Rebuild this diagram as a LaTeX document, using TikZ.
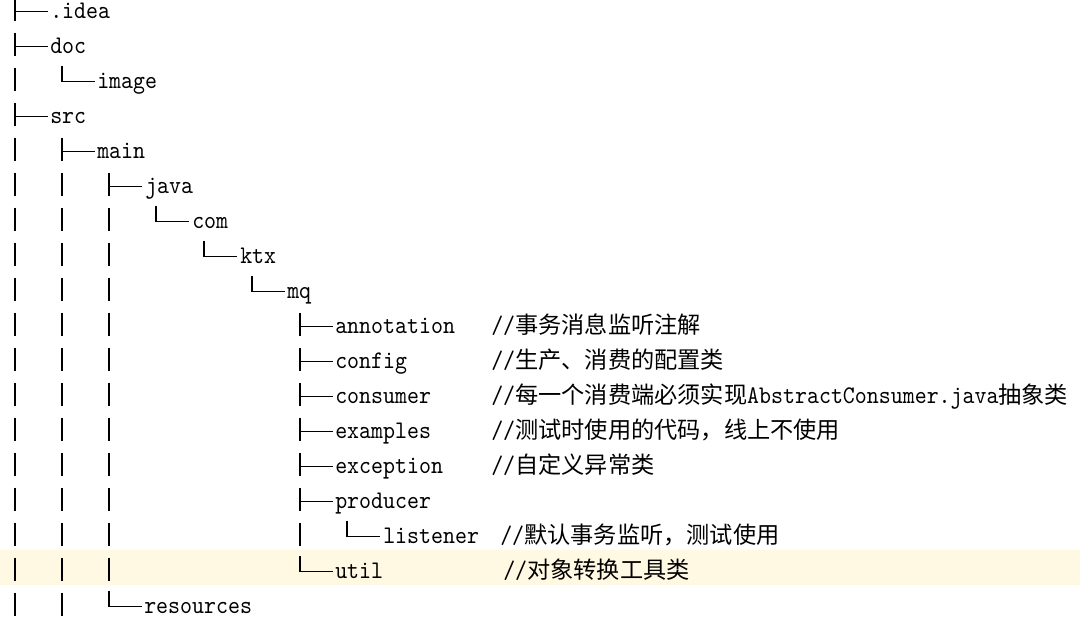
\documentclass[tikz,border=0pt]{standalone}
\usepackage{fontspec}
\newfontfamily\latfont[FakeStretch=0.9]{lmmono10-regular.otf}
\newfontfamily\cjkfont{Noto Sans CJK SC}
\definecolor{hl}{RGB}{255,249,228}
\newcommand\cj[1]{{\cjkfont\fontsize{17.4pt}{20pt}\selectfont #1}}
\newcommand\rowy[1]{11.5+35*#1}
\tikzset{
  itemtext/.style={anchor=base west, inner sep=0pt, font=\latfont\fontsize{19pt}{22pt}\selectfont},
  treeline/.style={line width=1.2pt, black},
  treeh/.style={line width=1.0pt, black}
}
\newcommand\ttee[2]{\draw[treeline] (#1,{\rowy{#2}-14}) -- (#1,{\rowy{#2}+9}); \draw[treeh] (#1,{\rowy{#2}}) -- ({#1+33},{\rowy{#2}});}
\newcommand\telb[2]{\draw[treeline] (#1,{\rowy{#2}-16}) -- (#1,{\rowy{#2}}); \draw[treeh] (#1,{\rowy{#2}}) -- ({#1+33},{\rowy{#2}});}
\newcommand\tbar[2]{\draw[treeline] (#1,{\rowy{#2}-14}) -- (#1,{\rowy{#2}+9});}
\begin{document}
\begin{tikzpicture}[x=0.75pt,y=-0.75pt]
\useasboundingbox (0,0) rectangle (1080,636);
\fill[white] (0,0) rectangle (1080,636);
% highlighted row
\fill[hl] (0,{\rowy{16}-21.5}) rectangle (1080,{\rowy{16}+13});
% tree lines
\ttee{15}{0}
\ttee{15}{1}
\tbar{15}{2} \telb{62}{2}
\ttee{15}{3}
\tbar{15}{4} \ttee{62}{4}
\tbar{15}{5} \tbar{62}{5} \ttee{109}{5}
\foreach \r in {6,...,16} {\tbar{15}{\r} \tbar{62}{\r} \tbar{109}{\r}}
\telb{156}{6}
\telb{204}{7}
\telb{252}{8}
\foreach \r in {9,...,14} {\ttee{300}{\r}}
\tbar{300}{15} \telb{347}{15}
\telb{300}{16}
\tbar{15}{17} \tbar{62}{17} \telb{109}{17}
% names
\node[itemtext] (n0) at (50,{\rowy{0}+7}) {.idea};
\node[itemtext] (n1) at (50,{\rowy{1}+7}) {doc};
\node[itemtext] (n2) at (97,{\rowy{2}+7}) {image};
\node[itemtext] (n3) at (50,{\rowy{3}+7}) {src};
\node[itemtext] (n4) at (97,{\rowy{4}+7}) {main};
\node[itemtext] (n5) at (145,{\rowy{5}+7}) {java};
\node[itemtext] (n6) at (192,{\rowy{6}+7}) {com};
\node[itemtext] (n7) at (240,{\rowy{7}+7}) {ktx};
\node[itemtext] (n8) at (287,{\rowy{8}+7}) {mq};
\node[itemtext] (n9) at (335,{\rowy{9}+7}) {annotation};
\node[itemtext] (n10) at (335,{\rowy{10}+7}) {config};
\node[itemtext] (n11) at (335,{\rowy{11}+7}) {consumer};
\node[itemtext] (n12) at (335,{\rowy{12}+7}) {examples};
\node[itemtext] (n13) at (335,{\rowy{13}+7}) {exception};
\node[itemtext] (n14) at (335,{\rowy{14}+7}) {producer};
\node[itemtext] (n15) at (383,{\rowy{15}+7}) {listener};
\node[itemtext] (n16) at (335,{\rowy{16}+7}) {util};
\node[itemtext] (n17) at (144,{\rowy{17}+7}) {resources};
% comments
\node[itemtext] (c9) at (491,{\rowy{9}+7}) {//\cj{事务消息监听注解}};
\node[itemtext] (c10) at (491,{\rowy{10}+7}) {//\cj{生产、消费的配置类}};
\node[itemtext] (c11) at (491,{\rowy{11}+7}) {//\cj{每一个消费端必须实现}AbstractConsumer.java\cj{抽象类}};
\node[itemtext] (c12) at (491,{\rowy{12}+7}) {//\cj{测试时使用的代码，线上不使用}};
\node[itemtext] (c13) at (491,{\rowy{13}+7}) {//\cj{自定义异常类}};
\node[itemtext] (c15) at (500,{\rowy{15}+7}) {//\cj{默认事务监听，测试使用}};
\node[itemtext] (c16) at (503,{\rowy{16}+7}) {//\cj{对象转换工具类}};
\end{tikzpicture}
\end{document}
